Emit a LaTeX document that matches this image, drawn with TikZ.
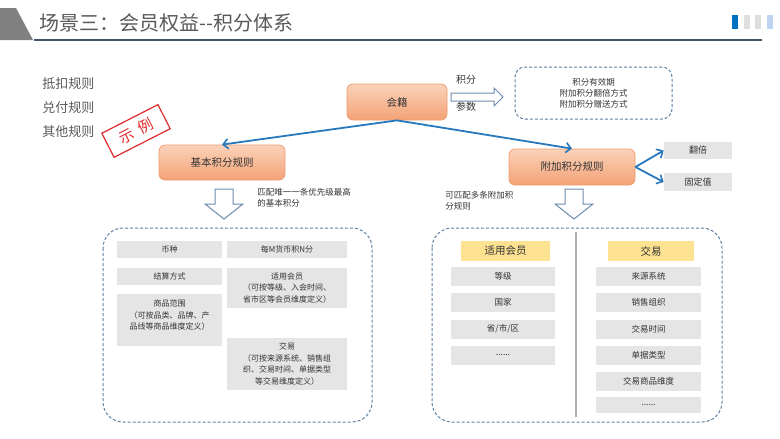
\documentclass[tikz,border=0pt]{standalone}
\usepackage{fontspec}
\setmainfont{Noto Sans CJK SC}
\usetikzlibrary{arrows.meta}

\definecolor{titlegray}{RGB}{89,89,89}
\definecolor{txtgray}{RGB}{51,51,51}
\definecolor{linkblue}{RGB}{40,120,190}
\definecolor{dashblue}{RGB}{95,128,165}
\definecolor{hollowblue}{RGB}{110,140,175}
\definecolor{boxgray}{RGB}{229,229,229}
\definecolor{hdryellow}{RGB}{253,226,145}
\definecolor{orgtop}{RGB}{251,210,186}
\definecolor{orgbot}{RGB}{243,162,118}
\definecolor{orgline}{RGB}{238,155,110}
\definecolor{stampred}{RGB}{225,40,45}

\newcommand{\setfs}[2]{\fontsize{#1}{#2}\selectfont}

\tikzset{every picture/.style={line width=0.75pt}}
\tikzset{
  rulebox/.style={draw=orgline, rounded corners=6, top color=orgtop, bottom color=orgbot,
    text=txtgray, font=\setfs{10.5}{12}, inner sep=0},
  graybox/.style={fill=boxgray, text=txtgray, align=center, inner sep=0},
  hdrbox/.style={fill=hdryellow, text=txtgray, font=\setfs{10.5}{12}, inner sep=0,
    minimum height=20},
  dashbox/.style={draw=dashblue, dash pattern={on 3pt off 2pt}, line width=1},
  hollow/.style={draw=hollowblue, fill=white, line width=1, line join=miter},
  link/.style={draw=linkblue, line width=1.8, -{Straight Barb[length=5pt,width=10pt,line width=1.6pt]}},
}

\begin{document}
\begin{tikzpicture}[x=1pt,y=1pt,yscale=-1]
	\useasboundingbox (0,0) rectangle (780,439);

	%Shape: Title band
	\fill [color={rgb, 255:red, 128; green, 128; blue, 128 }] (0,8) -- (16,8) -- (33,40) -- (0,40) -- cycle ;
	\draw [color={rgb, 255:red, 68; green, 84; blue, 106 }, line width=1.5] (34,40) -- (762,40) ;
	% Text Node
	\node (title) [anchor=west, inner sep=0, text=titlegray, font=\setfs{20}{22}] at (39,22.5) {场景三：会员权益{-}{-}积分体系};
	%Shape: page marks
	\fill [color={rgb, 255:red, 0; green, 112; blue, 192 }] (732,15) rectangle (738,29) ;
	\fill [color={rgb, 255:red, 222; green, 222; blue, 222 }] (744,15) rectangle (750,29) ;
	\fill [color={rgb, 255:red, 222; green, 222; blue, 222 }] (755,15) rectangle (761,29) ;
	\fill [color={rgb, 255:red, 190; green, 212; blue, 240 }] (767,15) rectangle (773,29) ;

	% Text Node
	\node (dk) [anchor=west, inner sep=0, text=titlegray, font=\setfs{13}{14}] at (42,84) {抵扣规则};
	\node (df) [anchor=west, inner sep=0, text=titlegray, font=\setfs{13}{14}] at (42,108) {兑付规则};
	\node (qt) [anchor=west, inner sep=0, text=titlegray, font=\setfs{13}{14}] at (42,132) {其他规则};
	% Stamp
	\node (stamp) [draw=stampred, line width=1.2, text=stampred, rotate=27, minimum width=63, minimum height=27,
	  inner sep=0, font=\setfs{15}{15}] at (136,131) {示\hspace{6pt}例};

	% Rule boxes
	\node (hj) [rulebox, minimum width=100, minimum height=36] at (397,102) {会籍};
	\node (jb) [rulebox, minimum width=126, minimum height=35] at (222,162.5) {基本积分规则};
	\node (fj) [rulebox, minimum width=126, minimum height=36] at (572,167) {附加积分规则};

	%Shape: hollow right arrow
	\draw [hollow] (451,93) -- (494,93) -- (494,88) -- (503,97) -- (494,106) -- (494,101) -- (451,101) -- cycle ;
	% Text Node
	\node (jf) [inner sep=0, text=txtgray, font=\setfs{10}{11}] at (466,80) {积分};
	\node (cs) [inner sep=0, text=txtgray, font=\setfs{10}{11}] at (466,107) {参数};
	% Parameter box
	\node (para) [dashbox, rounded corners=10, minimum width=157, minimum height=52, align=center,
	  text=txtgray, font=\setfs{8.5}{11}, inner sep=0] at (593.5,93) {积分有效期\\附加积分翻倍方式\\附加积分赠送方式};

	% Links
	\draw [link] (hj.south) -- (jb.north) ;
	\draw [link] (hj.south) -- (fj.north) ;
	\node (fb) [graybox, minimum width=68, minimum height=17, font=\setfs{9}{10}] at (698,150.5) {翻倍};
	\node (gd) [graybox, minimum width=68, minimum height=18, font=\setfs{9}{10}] at (698,182) {固定值};
	\draw [link] (fj.east) -- (fb.west) ;
	\draw [link] (fj.east) -- (gd.west) ;

	%Shape: hollow down arrows
	\draw [hollow] (215,189) -- (233,189) -- (233,204) -- (243,204) -- (224,219) -- (205,204) -- (215,204) -- cycle ;
	\draw [hollow] (565,189) -- (583,189) -- (583,204) -- (593,204) -- (574,219) -- (555,204) -- (565,204) -- cycle ;
	% Text Node
	\node (wy) [anchor=north west, inner sep=0, align=left, text=txtgray, font=\setfs{8.5}{11}] at (257,187.5) {匹配唯一一条优先级最高\\的基本积分};
	\node (dt) [anchor=north west, inner sep=0, align=left, text=txtgray, font=\setfs{8.5}{11}] at (445,190.5) {可匹配多条附加积\\分规则};

	%Shape: basic rule detail
	\draw [dashbox, rounded corners=20] (103,228) rectangle (372,422) ;
	\node (bz) [graybox, minimum width=105, minimum height=17, font=\setfs{8}{11.5}] at (169.5,249.5) {币种};
	\node (jsfs) [graybox, minimum width=105, minimum height=17, font=\setfs{8}{11.5}] at (169.5,276.5) {结算方式};
	\node (spfw) [graybox, minimum width=105, minimum height=52, font=\setfs{8}{11.5}] at (169.5,320) {商品范围\\（可按品类、品牌、产\\品线等商品维度定义）\\[-1pt]\mbox{}};
	\node (mm) [graybox, minimum width=120, minimum height=17, font=\setfs{8}{11.5}] at (287,249.5) {每M货币积N分};
	\node (syhy) [graybox, minimum width=120, minimum height=40, font=\setfs{8}{11.5}] at (287,288) {适用会员\\（可按等级、入会时间、\\省市区等会员维度定义）};
	\node (jyx) [graybox, minimum width=120, minimum height=52, font=\setfs{8}{11.5}] at (287,364) {交易\\（可按来源系统、销售组\\织、交易时间、单据类型\\等交易维度定义）};

	%Shape: extra rule detail
	\draw [dashbox, rounded corners=20] (432,228) rectangle (722,422) ;
	\draw [color={rgb, 255:red, 175; green, 175; blue, 175 }, line width=1.5] (576,232) -- (576,417) ;
	\node (hy) [hdrbox, minimum width=89] at (505.5,251) {适用会员};
	\node (dj) [graybox, minimum width=104, minimum height=19, font=\setfs{8.5}{10}] at (503,276.5) {等级};
	\node (gj) [graybox, minimum width=104, minimum height=19, font=\setfs{8.5}{10}] at (503,302.5) {国家};
	\node (ssq) [graybox, minimum width=104, minimum height=19, font=\setfs{8.5}{10}] at (503,329) {省/市/区};
	\node (hymore) [graybox, minimum width=104, minimum height=19, font=\setfs{8.5}{10}] at (503,355) {......};
	\node (jy) [hdrbox, minimum width=86] at (651,251) {交易};
	\node (lyxt) [graybox, minimum width=105, minimum height=19, font=\setfs{8.5}{10}] at (648.5,276.5) {来源系统};
	\node (xszz) [graybox, minimum width=105, minimum height=19, font=\setfs{8.5}{10}] at (648.5,302.5) {销售组织};
	\node (jysj) [graybox, minimum width=105, minimum height=19, font=\setfs{8.5}{10}] at (648.5,329) {交易时间};
	\node (djlx) [graybox, minimum width=105, minimum height=19, font=\setfs{8.5}{10}] at (648.5,355) {单据类型};
	\node (spwd) [graybox, minimum width=105, minimum height=19, font=\setfs{8.5}{10}] at (648.5,381.5) {交易商品维度};
	\node (jymore) [graybox, minimum width=105, minimum height=16, font=\setfs{8.5}{10}] at (648.5,405) {......};

\end{tikzpicture}
\end{document}
